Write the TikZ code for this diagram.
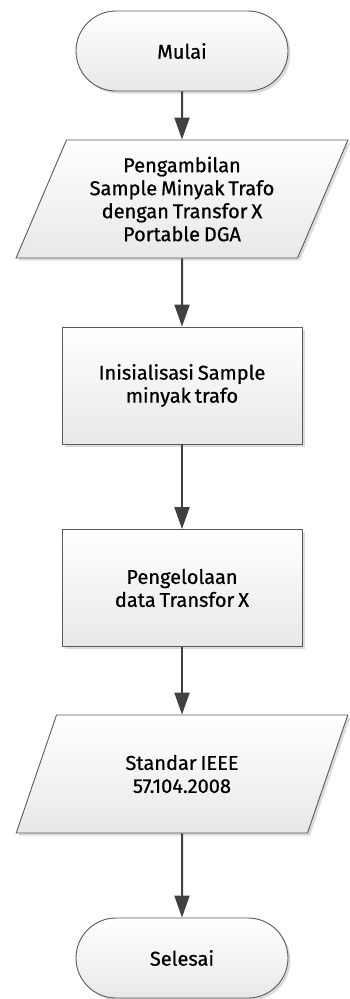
\documentclass[tikz,border=0pt]{standalone}
\usepackage{fontspec}
\setmainfont[WordSpace=0.75, FakeBold=0.7]{Fira Sans}
\usetikzlibrary{shapes.geometric,shapes.misc,shadows,arrows.meta}

\definecolor{edgegray}{HTML}{5A5A5A}
\definecolor{arrowgray}{HTML}{404040}

\tikzset{
    base/.style={draw=edgegray, line width=0.9pt, top color=white, bottom color=black!9,
        drop shadow={shadow xshift=2.5pt, shadow yshift=-2.5pt, fill=black!14, opacity=1},
        font=\fontsize{20}{23}\selectfont, text=black, align=center, inner sep=0pt},
    terminal/.style={base, rounded rectangle, minimum width=212pt, minimum height=80pt},
    process/.style={base, rectangle, minimum width=240pt, minimum height=117pt},
    inout/.style={base, trapezium, trapezium left angle=64.6, trapezium right angle=115.4,
        trapezium stretches=true, minimum width=332pt, minimum height=118pt},
    flow/.style={draw=arrowgray, line width=2pt, -{Triangle[length=22pt,width=15pt]}}
}

\begin{document}
\begin{tikzpicture}[x=1pt, y=1pt]
    \useasboundingbox (0,0) rectangle (349,-999);

    \node[terminal] (mulai) at (182,-51) {Mulai};
    \node[inout] (ambil) at (182,-199) {Pengambilan\\Sample Minyak Trafo\\dengan Transfor X\\Portable DGA};
    \node[process] (init) at (182,-385.5) {Inisialisasi Sample\\minyak trafo};
    \node[process] (olah) at (182,-588) {Pengelolaan\\data Transfor X};
    \node[inout] (standar) at (182,-774) {Standar IEEE\\57.104.2008};
    \node[terminal] (selesai) at (182,-958) {Selesai};

    \draw[flow] (mulai) -- (ambil);
    \draw[flow] (ambil) -- (init);
    \draw[flow] (init) -- (olah);
    \draw[flow] (olah) -- (standar);
    \draw[flow] (standar) -- (selesai);
\end{tikzpicture}
\end{document}
